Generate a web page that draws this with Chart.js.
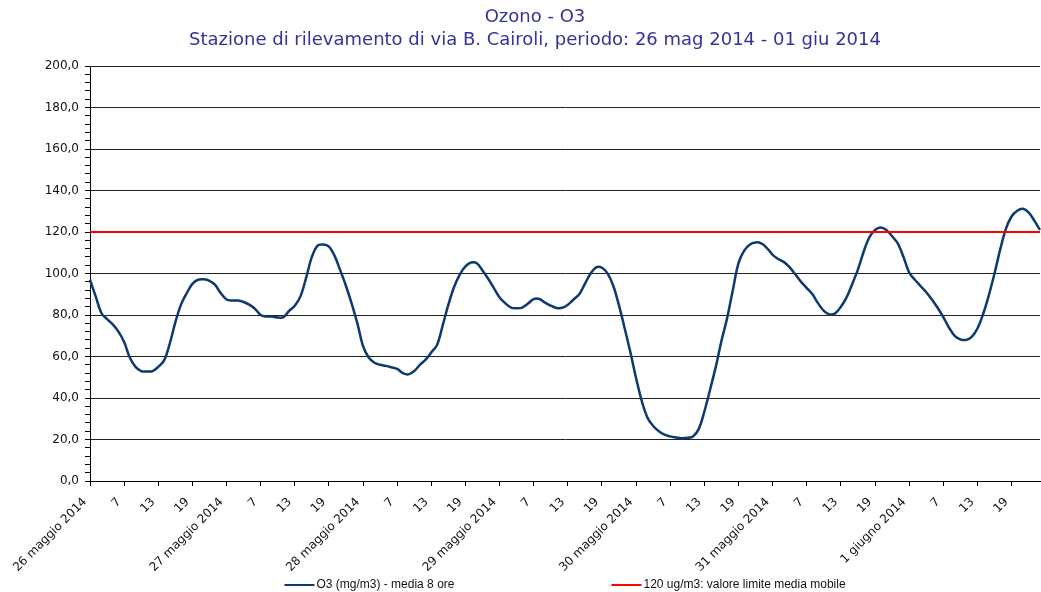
<!DOCTYPE html>
<html><head><meta charset="utf-8">
<script src="https://cdn.jsdelivr.net/npm/chart.js@4.4.1/dist/chart.umd.min.js"></script>
<style>html,body{margin:0;padding:0;background:#fff;}#wrap{width:1041px;height:592px;position:relative;}</style>
</head><body><div id="wrap"><canvas id="c"></canvas></div>
<script>
const titleLines = ['Ozono - O3', 'Stazione di rilevamento di via B. Cairoli, periodo: 26 mag 2014 - 01 giu 2014'];
const dayLabels = ['26 maggio 2014', '27 maggio 2014', '28 maggio 2014', '29 maggio 2014', '30 maggio 2014', '31 maggio 2014', '1 giugno 2014'];
const hourLabels = ['1','2','3','4','5','6','7','8','9','10','11','12','13','14','15','16','17','18','19','20','21','22','23','24'];
const o3Day1 = [97,89,81,78,75.5,72,67,59.5,55,53,52.8,53,55,58,66,76.5,85,90.5,95,97,97.2,96.5,94.5,90.5];
const o3Day2 = [87.5,87,87,86.3,85,83,80,79.3,79.3,78.8,79,82,84.5,89,98,108,113.5,114,113,108.5,101.5,94,85.5,76];
const o3Day3 = [65,59.5,57,56,55.5,54.8,54,52,51.4,53,56,58.5,62,65.5,75,85,93.5,99.5,103.5,105.3,105,101.5,97.5,93];
const o3Day4 = [88.5,85.7,83.6,83.3,83.6,85.5,87.7,87.7,86,84.5,83.4,83.5,85,87.5,90,95,100,103,102.8,100,94,84.5,73.5,62];
const o3Day5 = [49.5,38.5,30.5,26.5,24,22.3,21.5,21,20.6,20.8,21.5,25,33.5,44,55,67.5,78.5,92,105,111,114,115,114.5,112.3];
const o3Day6 = [109,107,105.5,103,99.5,96,93,90,85.6,82,80.3,80.8,84,88.5,95,102,110.5,117.5,121,122.2,121,118,114.5,108];
const o3Day7 = [100.5,97,94,91,87.5,83.5,79,74,70,68.3,68,69.5,73.5,80.5,89.5,100,111.5,121.5,127.5,130.3,131.2,129.5,125.5,121];
const limitValue = 120;
const seriesNames = ['O3 (mg/m3) - media 8 ore', '120 ug/m3: valore limite media mobile'];

const categories = [];
dayLabels.forEach(d => hourLabels.forEach(h => categories.push(d + ' ' + h)));
const o3Values = [].concat(o3Day1, o3Day2, o3Day3, o3Day4, o3Day5, o3Day6, o3Day7);
const limitLine = [{x: categories[0], y: limitValue}, {x: categories[categories.length - 1], y: limitValue}];

const lineColor = '#0c3a6e';
const limitColor = '#ff0000';

const legendPlugin = {
  id: 'customLegend',
  afterDraw(chart) {
    const ctx = chart.ctx;
    const ca = chart.chartArea;
    ctx.save();
    ctx.font = '12px "Liberation Sans", Arial, sans-serif';
    ctx.textBaseline = 'middle';
    ctx.textAlign = 'left';
    const lineLen = 30, gap = 2, spacing = 157;
    const ds = chart.data.datasets;
    const w = ds.map(d => ctx.measureText(d.label).width);
    const total = lineLen + gap + w[0] + spacing + lineLen + gap + w[1];
    let x = (ca.left + ca.right) / 2 - total / 2;
    const y = 585;
    ds.forEach((d, i) => {
      ctx.strokeStyle = d.borderColor;
      ctx.lineWidth = 2;
      ctx.beginPath(); ctx.moveTo(x, y); ctx.lineTo(x + lineLen, y); ctx.stroke();
      ctx.fillStyle = '#111';
      ctx.fillText(d.label, x + lineLen + gap, y);
      x += lineLen + gap + w[i] + spacing;
    });
    ctx.restore();
  }
};

new Chart(document.getElementById('c'), {
  type: 'line',
  data: {
    labels: categories,
    datasets: [
      { label: seriesNames[0], data: o3Values, borderColor: lineColor, backgroundColor: lineColor, borderWidth: 2.5, pointRadius: 0, tension: 0.35, fill: false, order: 1 },
      { label: seriesNames[1], data: limitLine, borderColor: limitColor, backgroundColor: limitColor, borderWidth: 2, pointRadius: 0, tension: 0, fill: false, order: 0 }
    ]
  },
  options: {
    responsive: true,
    maintainAspectRatio: false,
    animation: false,
    layout: { padding: { left: 30, right: 1, top: 0, bottom: 0 } },
    plugins: {
      legend: { display: false },
      tooltip: { enabled: false },
      title: {
        display: true,
        text: titleLines,
        color: '#333399',
        font: { family: '"DejaVu Sans", Verdana, sans-serif', size: 18, weight: 'normal', lineHeight: 1.28 },
        padding: { top: 5.5, bottom: 14.5 }
      }
    },
    scales: {
      x: {
        type: 'category',
        offset: false,
        afterFit(scale) { scale.height = 111; },
        grid: { drawOnChartArea: false, drawTicks: true, tickLength: 5, tickColor: '#000' },
        border: { color: '#000', width: 1 },
        ticks: {
          autoSkip: false,
          minRotation: 45,
          maxRotation: 45,
          padding: 9,
          labelOffset: -5,
          color: '#111',
          font: { family: '"DejaVu Sans", Verdana, sans-serif', size: 12 },
          callback(value, index) {
            if (index % 6 !== 0) return null;
            if (index % 24 === 0) return dayLabels[index / 24];
            return hourLabels[index % 24];
          }
        }
      },
      y: {
        min: 0,
        max: 200,
        afterFit(scale) { scale.width = 60; },
        grid: {
          color: ctx => (ctx.tick && ctx.tick.value % 20 === 0) ? '#222' : 'rgba(0,0,0,0)',
          tickColor: '#000',
          tickLength: 5,
          lineWidth: 1
        },
        border: { color: '#000', width: 1 },
        ticks: {
          stepSize: 4,
          autoSkip: false,
          padding: 6,
          color: '#111',
          font: { family: '"DejaVu Sans", Verdana, sans-serif', size: 12 },
          callback(value) {
            return value % 20 === 0 ? value.toFixed(1).replace('.', ',') : '';
          }
        }
      }
    }
  },
  plugins: [legendPlugin]
});
</script>
</body></html>
